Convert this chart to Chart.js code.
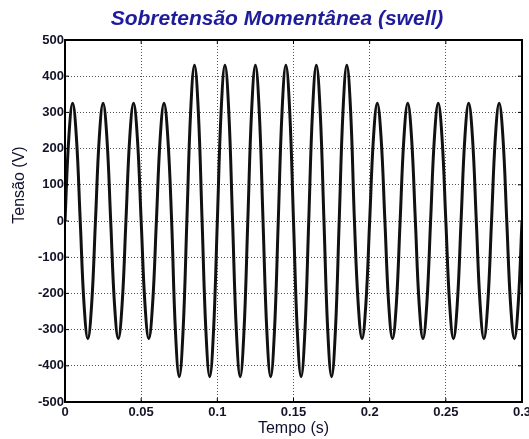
<!DOCTYPE html>
<html lang="pt">
<head>
    <meta charset="UTF-8">
    <title>Sobretensão Momentânea (swell)</title>
    <script src="https://cdn.jsdelivr.net/npm/chart.js"></script>
    <style>
        html, body { margin: 0; padding: 0; background: #fff; }
        #wrap { width: 529px; height: 439px; }
    </style>
</head>
<body>
<div id="wrap"><canvas id="myChart"></canvas></div>

<script>
// tempo (s), amostras a cada 1/8 de ciclo (50 Hz)
const tempo = [
    0, 0.0025, 0.005, 0.0075, 0.01, 0.0125, 0.015, 0.0175,
    0.02, 0.0225, 0.025, 0.0275, 0.03, 0.0325, 0.035, 0.0375,
    0.04, 0.0425, 0.045, 0.0475, 0.05, 0.0525, 0.055, 0.0575,
    0.06, 0.0625, 0.065, 0.0675, 0.07, 0.0725, 0.075, 0.0775,
    0.08, 0.0825, 0.085, 0.0875, 0.09, 0.0925, 0.095, 0.0975,
    0.1, 0.1025, 0.105, 0.1075, 0.11, 0.1125, 0.115, 0.1175,
    0.12, 0.1225, 0.125, 0.1275, 0.13, 0.1325, 0.135, 0.1375,
    0.14, 0.1425, 0.145, 0.1475, 0.15, 0.1525, 0.155, 0.1575,
    0.16, 0.1625, 0.165, 0.1675, 0.17, 0.1725, 0.175, 0.1775,
    0.18, 0.1825, 0.185, 0.1875, 0.19, 0.1925, 0.195, 0.1975,
    0.2, 0.2025, 0.205, 0.2075, 0.21, 0.2125, 0.215, 0.2175,
    0.22, 0.2225, 0.225, 0.2275, 0.23, 0.2325, 0.235, 0.2375,
    0.24, 0.2425, 0.245, 0.2475, 0.25, 0.2525, 0.255, 0.2575,
    0.26, 0.2625, 0.265, 0.2675, 0.27, 0.2725, 0.275, 0.2775,
    0.28, 0.2825, 0.285, 0.2875, 0.29, 0.2925, 0.295, 0.2975,
    0.3
];

// tensão (V)
const tensao = [
    0, 230, 325, 230, 0, -230, -325, -230,
    0, 230, 325, 230, 0, -230, -325, -230,
    0, 230, 325, 230, 0, -230, -325, -230,
    0, 230, 325, 230, 0, -304, -430, -304,
    0, 304, 430, 304, 0, -304, -430, -304,
    0, 304, 430, 304, 0, -304, -430, -304,
    0, 304, 430, 304, 0, -304, -430, -304,
    0, 304, 430, 304, 0, -304, -430, -304,
    0, 304, 430, 304, 0, -304, -430, -304,
    0, 304, 430, 304, 0, -230, -325, -230,
    0, 230, 325, 230, 0, -230, -325, -230,
    0, 230, 325, 230, 0, -230, -325, -230,
    0, 230, 325, 230, 0, -230, -325, -230,
    0, 230, 325, 230, 0, -230, -325, -230,
    0, 230, 325, 230, 0, -230, -325, -230,
    0
];

const xTicks = [0, 0.05, 0.1, 0.15, 0.2, 0.25, 0.3];
const yTicks = [-500, -400, -300, -200, -100, 0, 100, 200, 300, 400, 500];

const titulo = 'Sobretensão Momentânea (swell)';
const yTitulo = 'Tensão (V)';
const xTitulo = 'Tempo (s)';

const pontos = tempo.map((t, i) => ({ x: t, y: tensao[i] }));

// moldura, marcas internas, título e rótulo do eixo y
const boxPlugin = {
    id: 'box',
    afterDraw(chart) {
        const a = chart.chartArea;
        const ctx = chart.ctx;
        const sx = chart.scales.x, sy = chart.scales.y;
        ctx.save();
        ctx.strokeStyle = '#000';
        ctx.lineWidth = 1;
        ctx.beginPath();
        xTicks.forEach(v => {
            const px = sx.getPixelForValue(v);
            ctx.moveTo(px, a.top); ctx.lineTo(px, a.top + 4);
            ctx.moveTo(px, a.bottom); ctx.lineTo(px, a.bottom - 4);
        });
        yTicks.forEach(v => {
            const py = sy.getPixelForValue(v);
            ctx.moveTo(a.left, py); ctx.lineTo(a.left + 4, py);
            ctx.moveTo(a.right, py); ctx.lineTo(a.right - 4, py);
        });
        ctx.stroke();
        ctx.lineWidth = 2;
        ctx.strokeRect(a.left, a.top, a.right - a.left, a.bottom - a.top);

        ctx.fillStyle = '#1f1c9c';
        ctx.font = 'italic bold 21px "Liberation Sans"';
        ctx.textAlign = 'center';
        ctx.textBaseline = 'middle';
        ctx.fillText(titulo, 277, 19);

        ctx.fillStyle = '#101030';
        ctx.font = '16px "Liberation Sans"';
        ctx.translate(20, 185);
        ctx.rotate(-Math.PI / 2);
        ctx.fillText(yTitulo, 0, 0);
        ctx.restore();
    }
};

const grid = {
    color: '#555',
    lineWidth: 1,
    drawTicks: false
};

new Chart(document.getElementById('myChart'), {
    type: 'line',
    data: {
        datasets: [{
            data: pontos,
            borderColor: '#111',
            borderWidth: 3,
            pointRadius: 0,
            tension: 0.4,
            fill: false
        }]
    },
    options: {
        responsive: true,
        maintainAspectRatio: false,
        animation: false,
        layout: { padding: { left: 0, right: 7, top: 40, bottom: 0 } },
        plugins: {
            legend: { display: false },
            tooltip: { enabled: false },
            title: { display: false }
        },
        scales: {
            x: {
                type: 'linear',
                min: 0,
                max: 0.3,
                afterBuildTicks: axis => { axis.ticks = xTicks.map(v => ({ value: v })); },
                afterFit: axis => { axis.height = 37; axis.paddingRight = 0; },
                ticks: {
                    color: '#141428',
                    font: { family: 'Liberation Sans', size: 13, weight: 'bold' },
                    padding: 3,
                    maxRotation: 0,
                    callback: v => String(v)
                },
                grid: grid,
                border: { display: false, dash: [1, 2] },
                title: {
                    display: true,
                    text: xTitulo,
                    color: '#101030',
                    font: { family: 'Liberation Sans', size: 16 },
                    padding: { top: 0, bottom: 1 }
                }
            },
            y: {
                min: -500,
                max: 500,
                afterBuildTicks: axis => { axis.ticks = yTicks.map(v => ({ value: v })); },
                afterFit: axis => { axis.width = 65; },
                ticks: {
                    color: '#141428',
                    font: { family: 'Liberation Sans', size: 13, weight: 'bold' },
                    padding: 1
                },
                grid: grid,
                border: { display: false, dash: [1, 2] },
                title: { display: false }
            }
        }
    },
    plugins: [boxPlugin]
});
</script>
</body>
</html>
